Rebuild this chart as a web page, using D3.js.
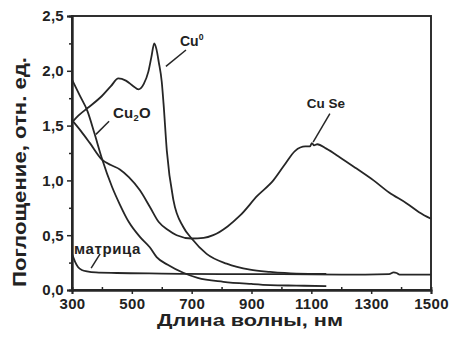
<!DOCTYPE html>
<html><head><meta charset="utf-8">
<script src="https://cdn.jsdelivr.net/npm/d3@7"></script>
<style>
html,body{margin:0;padding:0;background:#fff;}
svg{display:block;font-family:"Liberation Sans",Arial,sans-serif;font-weight:bold;}
</style></head><body>
<svg id="c" width="452" height="339"></svg>
<script>
// ---- data ----
const xTicks = [300,500,700,900,1100,1300,1500];
const yTicks = [0,0.5,1.0,1.5,2.0,2.5];

const cu0Wl  = [300,325,352,400,430,455,480,505,522,540,555,565,575,582,590,600,606,617,639,672,700,750,817,895,962,1050,1150];
const cu0Val = [1.53,1.60,1.66,1.77,1.86,1.93,1.91,1.86,1.83,1.88,1.99,2.12,2.25,2.20,2.08,1.90,1.70,1.27,0.82,0.575,0.47,0.33,0.24,0.185,0.165,0.15,0.147];

const cu2oWl  = [300,325,352,375,400,434,460,490,527,560,583,620,672,720,806,900,962,1050,1150];
const cu2oVal = [1.92,1.78,1.63,1.43,1.20,0.94,0.78,0.62,0.485,0.39,0.30,0.23,0.157,0.11,0.075,0.055,0.045,0.04,0.035];

const cuseWl  = [300,330,360,400,430,460,490,527,560,590,620,650,700,740,772,820,862,920,973,1010,1046,1080,1095,1102,1109,1120,1150,1196,1250,1308,1360,1419,1460,1500];
const cuseVal = [1.55,1.45,1.34,1.19,1.14,1.10,1.03,0.91,0.76,0.62,0.55,0.50,0.47,0.475,0.50,0.58,0.68,0.86,1.00,1.14,1.27,1.31,1.31,1.34,1.32,1.33,1.29,1.21,1.11,1.00,0.89,0.79,0.71,0.65];

const matWl  = [300,310,320,335,350,380,450,600,800,1000,1200,1360,1375,1385,1395,1500];
const matVal = [0.33,0.26,0.21,0.18,0.17,0.16,0.155,0.15,0.145,0.145,0.14,0.145,0.16,0.155,0.14,0.14];

// ---- chart ----
const svg = d3.select("#c");
const x = d3.scaleLinear().domain([300,1500]).range([72,431]);
const y = d3.scaleLinear().domain([0,2.5]).range([290,16]);
const ink = "#262626";

// frame
svg.append("rect").attr("x",x(300)).attr("y",y(2.5)).attr("width",x(1500)-x(300)).attr("height",y(0)-y(2.5))
  .attr("fill","none").attr("stroke",ink).attr("stroke-width",1.9);

// axes
const xAxis = d3.axisBottom(x).tickValues(xTicks).tickFormat(d3.format("d")).tickSize(4).tickPadding(4);
const gx = svg.append("g").attr("transform",`translate(0,${y(0)})`).call(xAxis);
const gxm = svg.append("g").attr("transform",`translate(0,${y(0)})`)
  .call(d3.axisTop(x).tickValues(d3.range(400,1500,200)).tickFormat("").tickSize(3));
const yAxis = d3.axisLeft(y).tickValues(yTicks).tickFormat(d=>d3.format(".1f")(d).replace(".",",")).tickSize(5).tickPadding(3);
const gy = svg.append("g").attr("transform",`translate(${x(300)},0)`).call(yAxis);
const gym = svg.append("g").attr("transform",`translate(${x(300)},0)`)
  .call(d3.axisLeft(y).tickValues(d3.range(0.25,2.5,0.5)).tickFormat("").tickSize(3));
[gx,gxm,gy,gym].forEach(g=>{
  g.select(".domain").attr("stroke",ink).attr("stroke-width",1.9);
  g.selectAll(".tick line").attr("stroke",ink).attr("stroke-width",1.5);
  g.selectAll("text").attr("fill","#222").style("font-size","15px").style("letter-spacing","0.3px")
   .style("font-weight","bold").style("font-family","'Liberation Sans',Arial,sans-serif");
});

// curves
const line = d3.line().x(d=>x(d[0])).y(d=>y(d[1])).curve(d3.curveMonotoneX);
const series = [[cu0Wl,cu0Val],[cu2oWl,cu2oVal],[cuseWl,cuseVal],[matWl,matVal]];
series.forEach(([w,v])=>{
  svg.append("path").datum(w.map((d,i)=>[d,v[i]])).attr("d",line)
    .attr("fill","none").attr("stroke",ink).attr("stroke-width",1.8).attr("stroke-linejoin","round");
});

// leader lines (data units)
const leaders = [[[681,2.19],[614,2.04]],[[424,1.54],[380,1.42]],[[1162,1.61],[1106,1.35]],[[394,0.33],[364,0.20]]];
leaders.forEach(l=>{
  svg.append("line").attr("x1",x(l[0][0])).attr("y1",y(l[0][1])).attr("x2",x(l[1][0])).attr("y2",y(l[1][1]))
    .attr("stroke",ink).attr("stroke-width",1.5);
});

// labels
function lab(wl,v,parts,size,ls){
  const t = svg.append("text").attr("x",x(wl)).attr("y",y(v)).attr("fill","#222")
    .style("font-size",size+"px").style("letter-spacing",(ls||0)+"px");
  parts.forEach(p=>{
    const s = t.append("tspan").text(p[0]);
    if(p[1]==="sup") s.style("font-size",(size*0.62)+"px").attr("dy",-6);
    if(p[1]==="sub") s.style("font-size",(size*0.62)+"px").attr("dy",3);
    if(p[1]==="back") s.attr("dy",p[2]);
  });
}
lab(661,2.23,[["Cu"],["0","sup"]],14);
lab(437,1.57,[["Cu"],["2","sub"],["O","back",-3]],15,0.3);
lab(1085,1.66,[["Cu Se"]],13.5);
lab(307,0.33,[["матрица"]],15,0.6);

// axis titles
svg.append("text").attr("x",157).attr("y",326).attr("fill","#222")
  .attr("textLength",186).attr("lengthAdjust","spacingAndGlyphs")
  .style("font-size","17px").text("Длина волны, нм");
svg.append("text").attr("transform","translate(26,287) rotate(-90)").attr("fill","#222")
  .attr("textLength",230).attr("lengthAdjust","spacingAndGlyphs")
  .style("font-size","18px").text("Поглощение, отн. ед.");
</script>
</body></html>
